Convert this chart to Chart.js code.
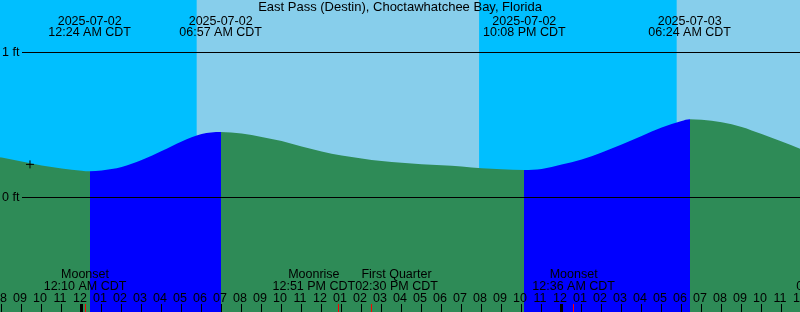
<!DOCTYPE html>
<html>
<head>
<meta charset="utf-8">
<script src="https://cdn.jsdelivr.net/npm/chart.js@4.4.0/dist/chart.umd.min.js"></script>
<style>
    html, body { margin: 0; padding: 0; background: #fff; }
    canvas { display: block; }
</style>
</head>
<body>
<canvas id="tideChart" width="800" height="312"></canvas>
<script>
const TITLE = 'East Pass (Destin), Choctawhatchee Bay, Florida';

// hours from 2025-07-02 00:00 CDT, water level in ft
const hours = [-5, -4, -3, -2, -1, 0, 0.4, 1, 2, 3, 4, 5, 6, 6.95, 8, 9, 10, 11, 12, 13, 14, 15, 16, 17, 18, 19, 20, 21,
    22.13, 23, 24, 25, 26, 27, 28, 29, 30, 30.4, 31, 32, 33, 34, 35, 36];
const levels = [0.297, 0.272, 0.245, 0.217, 0.197, 0.181, 0.177, 0.183, 0.207, 0.255, 0.317, 0.383, 0.434, 0.448,
    0.438, 0.414, 0.386, 0.348, 0.314, 0.286, 0.266, 0.248, 0.236, 0.226, 0.219, 0.210, 0.198, 0.191,
    0.186, 0.193, 0.224, 0.259, 0.307, 0.362, 0.421, 0.479, 0.524, 0.536, 0.532, 0.515, 0.483, 0.434, 0.383, 0.328];

// low / high tides
const tideTimes = [0.4, 6.95, 22.133, 30.4];
const tideDates = ['2025-07-02', '2025-07-02', '2025-07-02', '2025-07-03'];
const tideLabels = ['12:24 AM CDT', '06:57 AM CDT', '10:08 PM CDT', '06:24 AM CDT'];

// daylight
const sunrises = [5.75, 29.75];
const sunsets = [19.87, 43.87];

// moon events
const moonTimes = [0.167, 12.85, 14.5, 24.6, 37.8];
const moonNames = ['Moonset', 'Moonrise', 'First Quarter', 'Moonset', 'Moonrise'];
const moonLabels = ['12:10 AM CDT', '12:51 PM CDT', '02:30 PM CDT', '12:36 AM CDT', '01:48 PM CDT'];

// hour ticks start at -4 (8 PM on 07-01)
const hourTickStart = -4;
const hourLabels = ['08', '09', '10', '11', '12', '01', '02', '03', '04', '05', '06', '07', '08', '09', '10', '11',
    '12', '01', '02', '03', '04', '05', '06', '07', '08', '09', '10', '11', '12', '01', '02', '03', '04', '05', '06',
    '07', '08', '09', '10', '11', '12'];
const midnights = [0, 24];

const nowMark = [{ x: -2.585, y: 0.225 }];

const NIGHT = '#00bfff';
const DAY = '#87ceeb';
const EBB = '#2e8b57';
const FLOOD = '#0000ff';
const FONT = '12.5px "Liberation Sans"';
const TITLE_FONT = '13px "Liberation Sans"';

// fill colour: blue from each low to the next high, green otherwise
function waterFill(c) {
    const { chart } = c;
    const area = chart.chartArea;
    if (!area) return EBB;
    const x = chart.scales.x;
    const w = area.right - area.left;
    const g = chart.ctx.createLinearGradient(area.left, 0, area.right, 0);
    const pos = h => Math.min(1, Math.max(0, (x.getPixelForValue(h) - area.left) / w));
    g.addColorStop(0, EBB);
    for (let i = 0; i < tideTimes.length - 1; i += 2) {
        const p0 = pos(tideTimes[i]);
        const p1 = pos(tideTimes[i + 1]);
        g.addColorStop(p0, EBB);
        g.addColorStop(p0, FLOOD);
        g.addColorStop(p1, FLOOD);
        g.addColorStop(p1, EBB);
    }
    g.addColorStop(1, EBB);
    return g;
}

const tidePlugin = {
    id: 'tideDecor',
    beforeDraw(chart) {
        const { ctx, chartArea: a, scales: { x } } = chart;
        ctx.save();
        ctx.fillStyle = NIGHT;
        ctx.fillRect(a.left, a.top, a.right - a.left, a.bottom - a.top);
        ctx.fillStyle = DAY;
        sunrises.forEach((sr, i) => {
            const x0 = x.getPixelForValue(sr);
            const x1 = x.getPixelForValue(sunsets[i]);
            ctx.fillRect(x0, a.top, x1 - x0, a.bottom - a.top);
        });
        ctx.restore();
    },
    afterDatasetsDraw(chart) {
        const { ctx, chartArea: a, scales: { x, y } } = chart;
        ctx.save();
        ctx.fillStyle = '#000';
        ctx.font = FONT;

        // ft lines
        [1, 0].forEach(v => {
            const py = Math.round(y.getPixelForValue(v));
            ctx.fillRect(22, py, a.right - 22, 1);
            ctx.textAlign = 'left';
            ctx.fillText(v + ' ft', 2, py + 4);
        });

        // title
        ctx.textAlign = 'center';
        ctx.font = TITLE_FONT;
        ctx.fillText(TITLE, 400, 11);
        ctx.font = FONT;

        // tide times
        tideTimes.forEach((t, i) => {
            const px = x.getPixelForValue(t);
            ctx.fillText(tideDates[i], px, 25);
            ctx.fillText(tideLabels[i], px, 36);
        });

        // hour ticks
        hourLabels.forEach((lab, i) => {
            const h = hourTickStart + i;
            const px = Math.floor(x.getPixelForValue(h));
            if (midnights.includes(h)) ctx.fillRect(px - 1, 304, 3, 8);
            else ctx.fillRect(px, 304, 1, 8);
            ctx.fillText(lab, px - 1, 302);
        });

        // moon events: red tick, labels pushed apart where they would overlap
        const centers = moonTimes.map(t => x.getPixelForValue(t));
        const widths = moonNames.map((n, i) =>
            Math.max(ctx.measureText(n).width, ctx.measureText(moonLabels[i]).width));
        for (let i = 1; i < centers.length; i++) {
            const overlap = (centers[i - 1] + widths[i - 1] / 2) - (centers[i] - widths[i] / 2);
            if (overlap > 0) {
                centers[i - 1] -= overlap / 2;
                centers[i] += overlap / 2;
            }
        }
        moonTimes.forEach((t, i) => {
            ctx.fillStyle = '#000';
            ctx.fillText(moonNames[i], centers[i], 278);
            ctx.fillText(moonLabels[i], centers[i], 290);
            ctx.fillStyle = '#ff0000';
            ctx.fillRect(Math.floor(x.getPixelForValue(t)), 304, 1, 8);
        });
        ctx.restore();
    }
};

const ZERO_Y = 197;
const FT_PX = 145;
const H0_X = 81.67;
const HOUR_PX = 20;

// eslint-disable-next-line no-undef
new Chart(document.getElementById('tideChart'), {
    type: 'line',
    data: {
        datasets: [
            {
                data: nowMark,
                showLine: false,
                pointStyle: 'cross',
                pointRadius: 4,
                pointBorderColor: '#000',
                pointBorderWidth: 1,
                fill: false
            },
            {
                data: hours.map((h, i) => ({ x: h, y: levels[i] })),
                borderWidth: 0,
                borderColor: 'rgba(0,0,0,0)',
                pointRadius: 0,
                cubicInterpolationMode: 'monotone',
                fill: 'start',
                backgroundColor: waterFill
            }
        ]
    },
    options: {
        responsive: false,
        devicePixelRatio: 1,
        animation: false,
        layout: { padding: 0, autoPadding: false },
        scales: {
            x: { type: 'linear', display: false, min: -H0_X / HOUR_PX, max: (800 - H0_X) / HOUR_PX },
            y: { type: 'linear', display: false, min: (ZERO_Y - 312) / FT_PX, max: ZERO_Y / FT_PX }
        },
        plugins: {
            legend: { display: false },
            tooltip: { enabled: false }
        }
    },
    plugins: [tidePlugin]
});
</script>
</body>
</html>
